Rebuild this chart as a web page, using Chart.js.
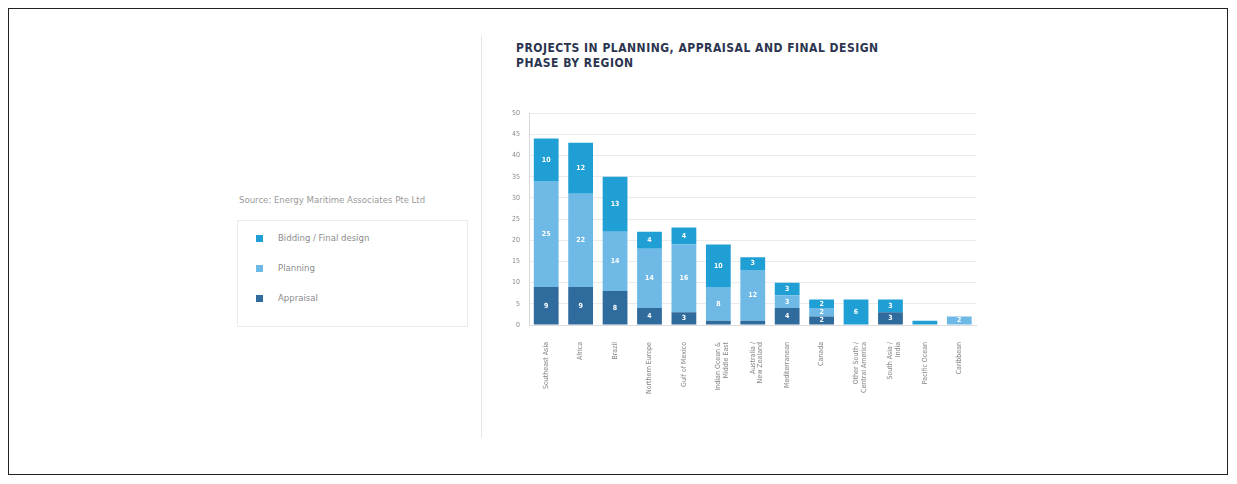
<!DOCTYPE html>
<html>
<head>
<meta charset="utf-8">
<script src="https://cdn.jsdelivr.net/npm/chart.js@4.4.1/dist/chart.umd.min.js"></script>
<style>
  html, body { margin: 0; padding: 0; background: #fff; }
  body { width: 1237px; height: 484px; position: relative; overflow: hidden; font-family: "DejaVu Sans Condensed", "DejaVu Sans", sans-serif; }
  #frame { position: absolute; left: 8px; top: 8px; width: 1220px; height: 467px; border: 1px solid #222; box-sizing: border-box; }
  #divider { position: absolute; left: 481px; top: 36px; width: 1px; height: 402px; background: #e6e6e6; }
  #title { position: absolute; left: 516px; top: 41px; font-size: 12px; line-height: 15px; font-weight: bold; color: #2b3550; letter-spacing: 0.5px; white-space: nowrap; }
  #source { position: absolute; left: 239px; top: 194px; font-size: 9.5px; color: #9a9a9a; white-space: nowrap; }
  #legend { position: absolute; left: 237px; top: 220px; width: 231px; height: 107px; border: 1px solid #ececec; box-sizing: border-box; }
  .item { position: absolute; left: 18px; font-size: 9.5px; color: #8c8c8c; white-space: nowrap; }
  .item span.sw { position: absolute; left: 0; top: 3px; width: 7px; height: 7px; }
  .item span.tx { position: absolute; left: 22px; top: 0; }
  #wrap { position: absolute; left: 500px; top: 100px; width: 484px; height: 340px; }
</style>
</head>
<body>
<div id="frame"></div>
<div id="divider"></div>
<div id="title">PROJECTS IN PLANNING, APPRAISAL AND FINAL DESIGN<br>PHASE BY REGION</div>
<div id="source">Source: Energy Maritime Associates Pte Ltd</div>
<div id="legend"></div>
<div id="wrap"><canvas id="c" width="484" height="340"></canvas></div>
<script>
// Regions along the x axis
const regions = [
  "Southeast Asia",
  "Africa",
  "Brazil",
  "Northern Europe",
  "Gulf of Mexico",
  ["Indian Ocean &", "Middle East"],
  ["Australia /", "New Zealand"],
  "Mediterranean",
  "Canada",
  ["Other South /", "Central America"],
  ["South Asia /", "India"],
  "Pacific Ocean",
  "Caribbean"
];

// Project counts per phase
const appraisal = [9, 9, 8, 4, 3, 1, 1, 4, 2, 0, 3, 0, 0];
const planning  = [25, 22, 14, 14, 16, 8, 12, 3, 2, 0, 0, 0, 2];
const bidding   = [10, 12, 13, 4, 4, 10, 3, 3, 2, 6, 3, 1, 0];

const yTicks = [0, 5, 10, 15, 20, 25, 30, 35, 40, 45, 50];

const seriesNames = ["Bidding / Final design", "Planning", "Appraisal"];
const seriesColors = ["#1f9fd3", "#6fb9e6", "#2f6b9c"];

// Legend panel
const legend = document.getElementById("legend");
seriesNames.forEach((name, i) => {
  const d = document.createElement("div");
  d.className = "item";
  d.style.top = (11 + i * 30) + "px";
  d.innerHTML = '<span class="sw" style="background:' + seriesColors[i] + '"></span><span class="tx">' + name + '</span>';
  legend.appendChild(d);
});

// White value labels inside each bar segment
const segmentLabels = {
  id: "segmentLabels",
  afterDatasetsDraw(chart) {
    const ctx = chart.ctx;
    ctx.save();
    ctx.fillStyle = "#ffffff";
    ctx.font = "bold 7px 'DejaVu Sans Condensed', sans-serif";
    ctx.textAlign = "center";
    ctx.textBaseline = "middle";
    chart.data.datasets.forEach((ds, di) => {
      const meta = chart.getDatasetMeta(di);
      meta.data.forEach((bar, i) => {
        const v = ds.data[i];
        if (!v) return;
        const h = Math.abs(bar.base - bar.y);
        if (h < 7) return;
        ctx.fillText(String(v), bar.x, (bar.y + bar.base) / 2);
      });
    });
    ctx.restore();
  }
};

new Chart(document.getElementById("c"), {
  type: "bar",
  data: {
    labels: regions,
    datasets: [
      { label: seriesNames[2], data: appraisal, backgroundColor: seriesColors[2] },
      { label: seriesNames[1], data: planning,  backgroundColor: seriesColors[1] },
      { label: seriesNames[0], data: bidding,   backgroundColor: seriesColors[0] }
    ]
  },
  options: {
    responsive: false,
    animation: false,
    layout: { padding: { top: 12, right: 0, left: 0, bottom: 0 } },
    datasets: { bar: { barPercentage: 0.72, categoryPercentage: 1.0, borderWidth: 0 } },
    plugins: { legend: { display: false }, tooltip: { enabled: false } },
    scales: {
      x: {
        stacked: true,
        grid: { display: false, drawTicks: false },
        border: { display: true, color: "#dcdcdc" },
        ticks: {
          minRotation: 90, maxRotation: 90, autoSkip: false, padding: 17,
          color: "#858585",
          font: { size: 7, family: "'DejaVu Sans Condensed', sans-serif", lineHeight: 1.1 }
        },
        afterFit(scale) { scale.height = 115; }
      },
      y: {
        stacked: true,
        min: 0, max: 50,
        afterBuildTicks(scale) { scale.ticks = yTicks.map(v => ({ value: v })); },
        grid: { color: "#ebebeb", drawTicks: false },
        border: { display: true, color: "#d8d8d8" },
        ticks: {
          padding: 9, color: "#8a8a8a",
          font: { size: 7, family: "'DejaVu Sans Condensed', sans-serif" }
        },
        afterFit(scale) { scale.width = 29; }
      }
    }
  },
  plugins: [segmentLabels]
});
</script>
</body>
</html>
